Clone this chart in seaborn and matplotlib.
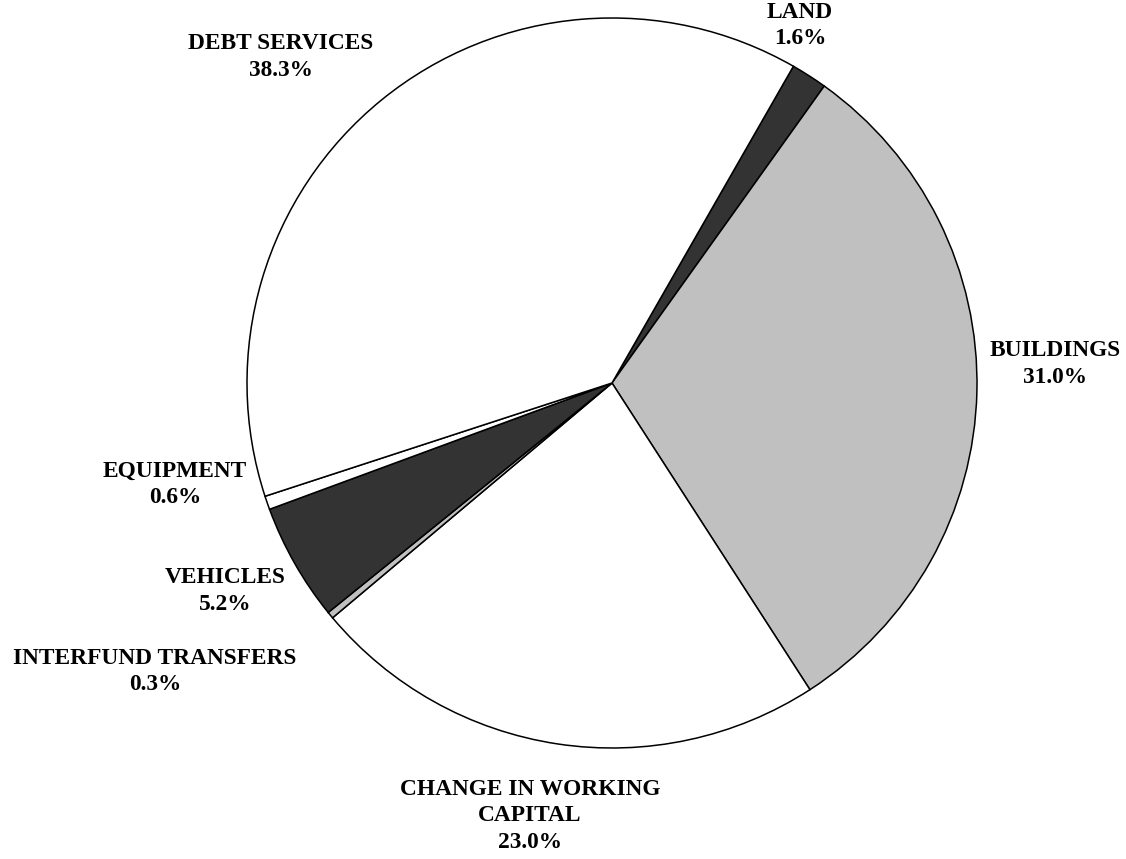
import seaborn as sns
import matplotlib.pyplot as plt

# Data (clockwise from LAND)
categories = ["LAND", "BUILDINGS", "CHANGE IN WORKING\nCAPITAL", "INTERFUND TRANSFERS",
              "VEHICLES", "EQUIPMENT", "DEBT SERVICES"]
shares = [1.6, 31.0, 23.0, 0.3, 5.2, 0.6, 38.3]
slice_colors = ["#333333", "#c0c0c0", "#ffffff", "#c0c0c0", "#333333", "#ffffff", "#ffffff"]

# label centres, in pie-radius units
label_xy = [(0.515, 0.980), (1.214, 0.052), (-0.225, -1.186), (-1.252, -0.791),
            (-1.06, -0.570), (-1.197, -0.277), (-0.907, 0.893)]

sns.set_theme(style="white")
plt.rcParams["font.family"] = ["Liberation Serif", "DejaVu Serif"]

fig = plt.figure(figsize=(11.26, 8.59), dpi=100)
ax = fig.add_axes([0, 0, 1, 1])

ax.pie(shares, colors=slice_colors, startangle=60.2, counterclock=False,
       wedgeprops=dict(edgecolor="black", linewidth=1.1))

R = 365.0
ax.set_xlim(-612 / R, (1126 - 612) / R)
ax.set_ylim(-(859 - 383) / R, 383 / R)
ax.set_aspect("auto")
ax.axis("off")

for name, val, (x, y) in zip(categories, shares, label_xy):
    ax.text(x, y, f"{name}\n{val:.1f}%", ha="center", va="center",
            fontsize=16.8, fontweight="bold", linespacing=1.32, color="black")

fig.savefig("out.png", dpi=100)
